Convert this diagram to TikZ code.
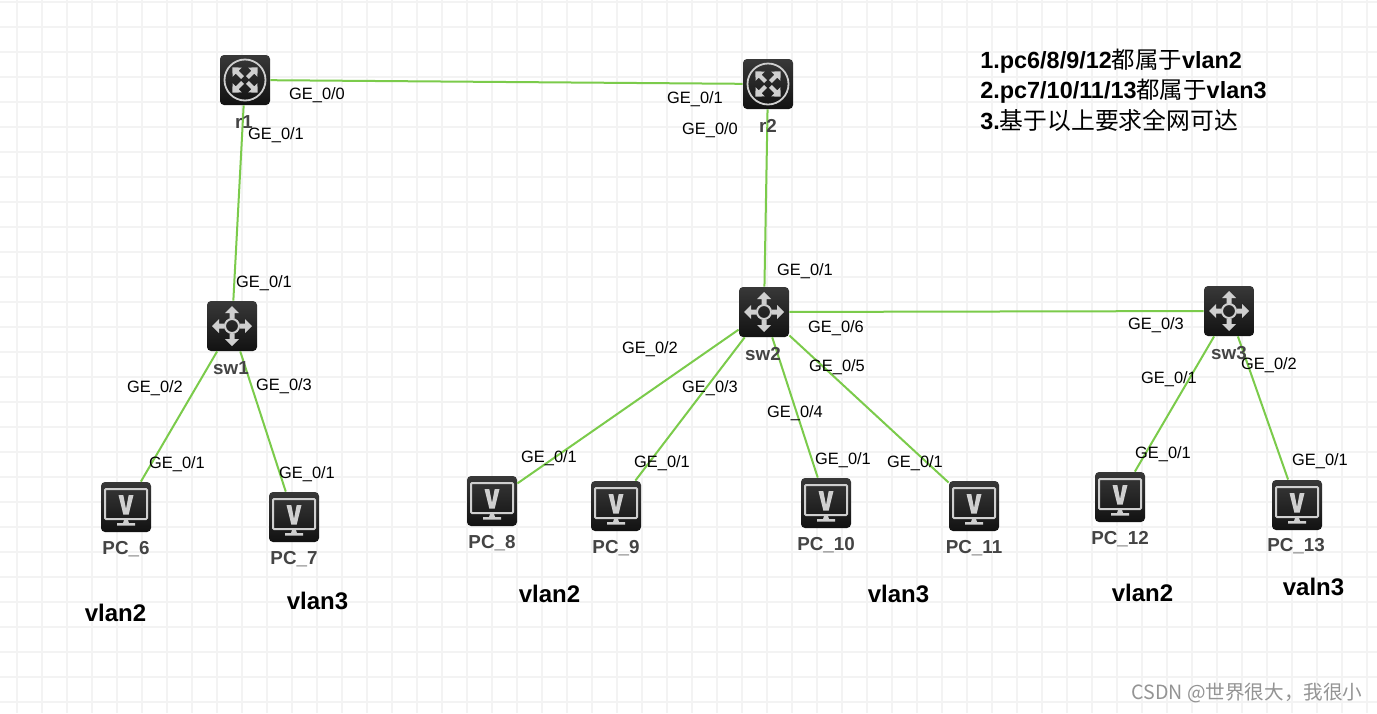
\documentclass[tikz,border=0pt]{standalone}
\usepackage{fontspec}
\setmainfont{Liberation Sans}
\newfontfamily\cjk{Noto Sans CJK SC}

\definecolor{gridgray}{HTML}{F3F3F3}
\definecolor{linkgreen}{HTML}{7BCB4B}
\definecolor{glyphgray}{HTML}{CFCFCF}
\definecolor{namegray}{HTML}{444444}

\tikzset{
  devbox/.style={rectangle, rounded corners=2pt, minimum size=25pt, inner sep=0pt,
    top color=black!78, bottom color=black!93},
  link/.style={line width=1pt, linkgreen},
  portlabel/.style={font=\fontsize{8.2}{10}\selectfont, inner sep=0pt, yshift=-0.75pt},
  devname/.style={font=\fontsize{9.4}{11}\bfseries\selectfont, namegray, inner sep=0pt, yshift=-0.5pt},
  vlanlabel/.style={font=\fontsize{12}{14}\bfseries\selectfont, inner sep=0pt, xshift=0.25pt},
  notelabel/.style={font=\fontsize{11.7}{14}\bfseries\selectfont, anchor=west, inner sep=0pt},
  routerglyph/.pic={
    \draw[glyphgray, line width=0.9pt] (0,0) circle (20.5);
    \foreach \a in {45,135,225,315}{
      \fill[glyphgray, rotate=\a] (3.5,-2) -- (11,-2) -- (11,-6.5) -- (18,0) -- (11,6.5) -- (11,2) -- (3.5,2) -- cycle;
    }
  },
  switchglyph/.pic={
    \draw[glyphgray, line width=1pt] (0,0) circle (7);
    \foreach \a in {0,90,180,270}{
      \fill[glyphgray, rotate=\a] (7.5,-2.5) -- (13,-2.5) -- (13,-7) -- (20,0) -- (13,7) -- (13,2.5) -- (7.5,2.5) -- cycle;
    }
  },
  pcglyph/.pic={
    \draw[glyphgray, line width=1pt, rounded corners=0.5pt] (-21,-18) rectangle (21,12);
    \fill[glyphgray] (-7.5,-12) -- (-2.7,-12) -- (0,2) -- (2.7,-12) -- (7.5,-12) -- (2.7,7.5) -- (-2.7,7.5) -- cycle;
    \fill[glyphgray] (-2,13) -- (2,13) -- (3,16) -- (9,16) -- (9,18.5) -- (-9,18.5) -- (-9,16) -- (-3,16) -- cycle;
  }
}

\begin{document}
\begin{tikzpicture}[x=0.5pt, y=-0.5pt]
\useasboundingbox (0,0) rectangle (1377,713);
\fill[white] (0,0) rectangle (1377,713);

% Grid
\foreach \gx in {0,...,54}{
  \draw[gridgray, line width=1.2pt] (17+25*\gx,0) -- (17+25*\gx,713);
}
\foreach \gy in {0,...,28}{
  \draw[gridgray, line width=1.2pt] (0,2+25*\gy) -- (1377,2+25*\gy);
}

% Routers and switches
\node[devbox] (r1)  at (245,80)  {};
\node[devbox] (r2)  at (768,84)  {};
\node[devbox] (sw1) at (232,326) {};
\node[devbox] (sw2) at (764,312) {};
\node[devbox] (sw3) at (1229,311) {};

% PCs
\node[devbox] (pc6)  at (126,507)  {};
\node[devbox] (pc7)  at (294,517)  {};
\node[devbox] (pc8)  at (492,501)  {};
\node[devbox] (pc9)  at (616,506)  {};
\node[devbox] (pc10) at (826,503)  {};
\node[devbox] (pc11) at (974,506)  {};
\node[devbox] (pc12) at (1120,497) {};
\node[devbox] (pc13) at (1297,505) {};

% Glyphs
\pic at (r1)  {routerglyph};
\pic at (r2)  {routerglyph};
\pic at (sw1) {switchglyph};
\pic at (sw2) {switchglyph};
\pic at (sw3) {switchglyph};
\pic at (pc6)  {pcglyph};
\pic at (pc7)  {pcglyph};
\pic at (pc8)  {pcglyph};
\pic at (pc9)  {pcglyph};
\pic at (pc10) {pcglyph};
\pic at (pc11) {pcglyph};
\pic at (pc12) {pcglyph};
\pic at (pc13) {pcglyph};

% Links
\draw[link] (r1) -- (r2);
\draw[link] (r1) -- (sw1);
\draw[link] (r2) -- (sw2);
\draw[link] (sw2) -- (sw3);
\draw[link] (sw1) -- (pc6);
\draw[link] (sw1) -- (pc7);
\draw[link] (sw2) -- (pc8);
\draw[link] (sw2) -- (pc9);
\draw[link] (sw2) -- (pc10);
\draw[link] (sw2) -- (pc11);
\draw[link] (sw3) -- (pc12);
\draw[link] (sw3) -- (pc13);

% Device names
\node[devname] (r1name)  at (244,121) {r1};
\node[devname] (r2name)  at (768,125) {r2};
\node[devname] (sw1name) at (231,367) {sw1};
\node[devname] (sw2name) at (763,353) {sw2};
\node[devname] (sw3name) at (1229,352) {sw3};
\node[devname] (pc6name)  at (126,548)  {PC\_6};
\node[devname] (pc7name)  at (294,558)  {PC\_7};
\node[devname] (pc8name)  at (492,542)  {PC\_8};
\node[devname] (pc9name)  at (616,547)  {PC\_9};
\node[devname] (pc10name) at (826,544)  {PC\_10};
\node[devname] (pc11name) at (974,547)  {PC\_11};
\node[devname] (pc12name) at (1120,538) {PC\_12};
\node[devname] (pc13name) at (1296,545) {PC\_13};

% Port labels
\node[portlabel] (r1a)  at (317,94)  {GE\_0/0};
\node[portlabel] (r1b)  at (276,134) {GE\_0/1};
\node[portlabel] (r2a)  at (695,98)  {GE\_0/1};
\node[portlabel] (r2b)  at (710,129) {GE\_0/0};
\node[portlabel] (sw1a) at (264,282) {GE\_0/1};
\node[portlabel] (sw1b) at (155,387) {GE\_0/2};
\node[portlabel] (sw1c) at (284,385) {GE\_0/3};
\node[portlabel] (pc6a) at (177,463) {GE\_0/1};
\node[portlabel] (pc7a) at (307,473) {GE\_0/1};
\node[portlabel] (sw2a) at (805,270) {GE\_0/1};
\node[portlabel] (sw2f) at (836,327) {GE\_0/6};
\node[portlabel] (sw2b) at (650,348) {GE\_0/2};
\node[portlabel] (sw2c) at (710,387) {GE\_0/3};
\node[portlabel] (sw2e) at (837,366) {GE\_0/5};
\node[portlabel] (sw2d) at (795,412) {GE\_0/4};
\node[portlabel] (pc8a)  at (549,457) {GE\_0/1};
\node[portlabel] (pc9a)  at (662,462) {GE\_0/1};
\node[portlabel] (pc10a) at (843,459) {GE\_0/1};
\node[portlabel] (pc11a) at (915,462) {GE\_0/1};
\node[portlabel] (sw3c) at (1156,324) {GE\_0/3};
\node[portlabel] (sw3a) at (1169,378) {GE\_0/1};
\node[portlabel] (sw3b) at (1269,364) {GE\_0/2};
\node[portlabel] (pc12a) at (1163,453) {GE\_0/1};
\node[portlabel] (pc13a) at (1320,460) {GE\_0/1};

% Vlan labels
\node[vlanlabel] (vlanA) at (115,613)  {vlan2};
\node[vlanlabel] (vlanB) at (317,601)  {vlan3};
\node[vlanlabel] (vlanC) at (549,594)  {vlan2};
\node[vlanlabel] (vlanD) at (898,594)  {vlan3};
\node[vlanlabel] (vlanE) at (1142,593) {vlan2};
\node[vlanlabel] (vlanF) at (1313,587) {valn3};

% Notes
\node[notelabel] (note1) at (980,61)  {1.pc6/8/9/12{\cjk\mdseries 都属于}vlan2};
\node[notelabel] (note2) at (980,91)  {2.pc7/10/11/13{\cjk\mdseries 都属于}vlan3};
\node[notelabel] (note3) at (980,120) {3.{\cjk\mdseries\fontsize{11.9}{14}\selectfont 基于以上要求全网可达}};

% Watermark
\node[font=\fontsize{9.8}{12}\cjk\selectfont, black!42, inner sep=0pt] (mark) at (1247,693) {CSDN @世界很大，我很小};

\end{tikzpicture}
\end{document}
